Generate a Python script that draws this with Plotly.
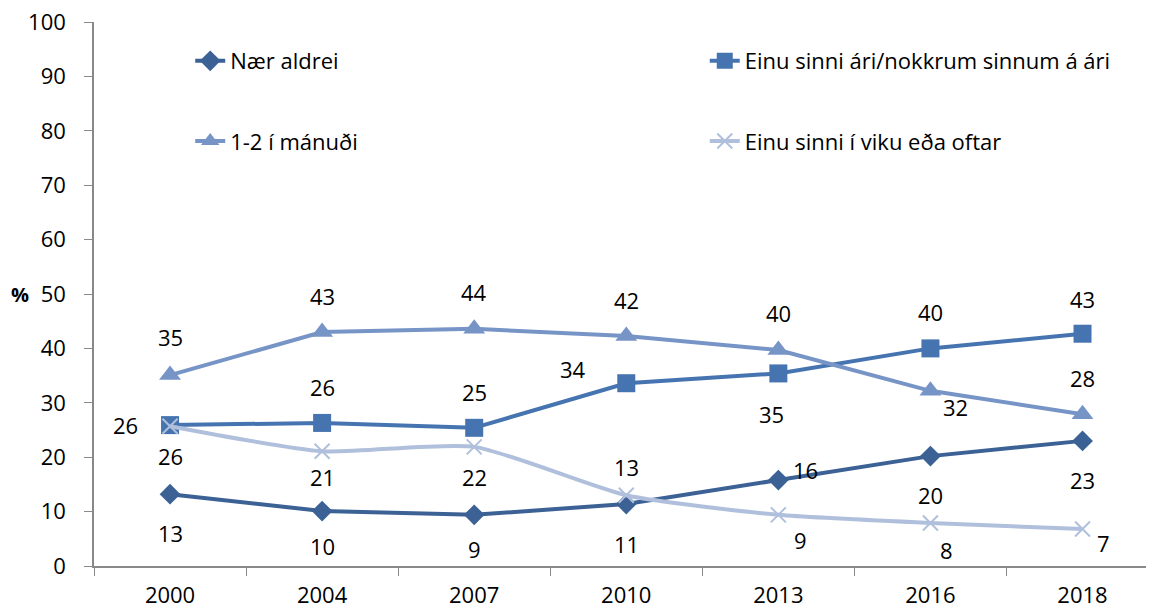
import plotly.graph_objects as go

# data
years = ["2000", "2004", "2007", "2010", "2013", "2016", "2018"]
naer_aldrei = [13.2, 10.1, 9.4, 11.4, 15.8, 20.2, 23.0]
einu_sinni_ari = [25.9, 26.3, 25.4, 33.6, 35.4, 40.0, 42.7]
manudi = [35.1, 43.0, 43.6, 42.3, 39.7, 32.2, 27.9]
viku = [25.7, 21.1, 21.9, 13.0, 9.4, 7.9, 6.8]

lbl_naer = ["13", "10", "9", "11", "16", "20", "23"]
lbl_ari = ["26", "26", "25", "34", "35", "40", "43"]
lbl_man = ["35", "43", "44", "42", "40", "32", "28"]
lbl_viku = ["26", "21", "22", "13", "9", "8", "7"]

FONT = "'Open Sans', sans-serif"
FS = 22

series = [
    ("Nær aldrei", naer_aldrei, lbl_naer, "#3B6195", "diamond", 16),
    ("Einu sinni ári/nokkrum sinnum á ári", einu_sinni_ari, lbl_ari, "#4674B0", "square", 18),
    ("1-2 í mánuði", manudi, lbl_man, "#7794C7", "triangle-up", 19),
    ("Einu sinni í viku eða oftar", viku, lbl_viku, "#B0C0DC", "x-thin", 15),
]

# label offsets (px) for each series, per point
offsets = [
    [(0, -39), (0, -35), (0, -34), (0, -40), (27, 10), (0, -39), (0, -39)],
    [(-45, 0), (0, 36), (0, 36), (-53, 14), (-7, -41), (0, 36), (0, 35)],
    [(0, 38), (0, 36), (0, 37), (0, 36), (0, 37), (25, -16), (0, 36)],
    [(0, -30), (0, -26), (0, -30), (0, 28), (22, -25), (16, -27), (21, -14)],
]

# legend spots (container coords): two columns, two rows
leg_pos = [(0.159, 0.912), (0.608, 0.912), (0.159, 0.779), (0.608, 0.779)]

fig = go.Figure()
annotations = []
legends = {}
for i, ((name, vals, lbls, col, sym, size), offs) in enumerate(zip(series, offsets)):
    leg = "legend" if i == 0 else "legend%d" % (i + 1)
    mk = dict(symbol=sym, size=size, color=col)
    if sym == "x-thin":
        mk["line"] = dict(color=col, width=2)
    fig.add_trace(go.Scatter(
        x=years, y=vals, name=name, mode="lines+markers", showlegend=True,
        line=dict(color=col, width=4, shape="spline" if sym == "x-thin" else "linear", smoothing=0.6),
        marker=mk, legend=leg, hoverinfo="skip"))
    for j, (v, t, (dx, dy)) in enumerate(zip(vals, lbls, offs)):
        annotations.append(dict(x=j, y=v, text=t, showarrow=False, xshift=dx, yshift=dy,
                                font=dict(size=FS, color="black", family=FONT)))
    lx, ly = leg_pos[i]
    legends[leg] = dict(x=lx, y=ly, xref="container", yref="container", xanchor="left",
                        yanchor="middle", bgcolor="rgba(0,0,0,0)", itemwidth=30,
                        font=dict(size=FS, color="black", family=FONT))

# "%" axis title, horizontal, left of the tick labels
annotations.append(dict(x=-0.07, xref="paper", xanchor="center", y=50, text="<b>%</b>",
                        showarrow=False, font=dict(size=FS - 2, color="black", family=FONT)))

# page body has an 8px margin, so the figure is made 8px smaller
fig.update_layout(
    width=1146, height=603, showlegend=True,
    margin=dict(l=86, r=0, t=14, b=45, autoexpand=False),
    plot_bgcolor="white", paper_bgcolor="white",
    font=dict(family=FONT, size=FS, color="black"),
    annotations=annotations,
    xaxis=dict(type="category", range=[-0.5, 6.47], showline=True, linecolor="#898989",
               linewidth=1.5, ticks="outside", tickson="boundaries", ticklen=8,
               tickcolor="#898989", showgrid=False, zeroline=False, automargin=False,
               ticklabelstandoff=9, ticklabeloverflow="allow",
               tickfont=dict(size=FS, family=FONT, color="black")),
    yaxis=dict(range=[0, 100], dtick=10, showline=True, linecolor="#898989", linewidth=1.5,
               ticks="outside", ticklen=8, tickcolor="#898989", showgrid=False, zeroline=False,
               automargin=False, ticklabelstandoff=14, ticklabeloverflow="allow",
               tickfont=dict(size=FS, family=FONT, color="black")),
    **legends,
)

fig.write_html("out.html")
